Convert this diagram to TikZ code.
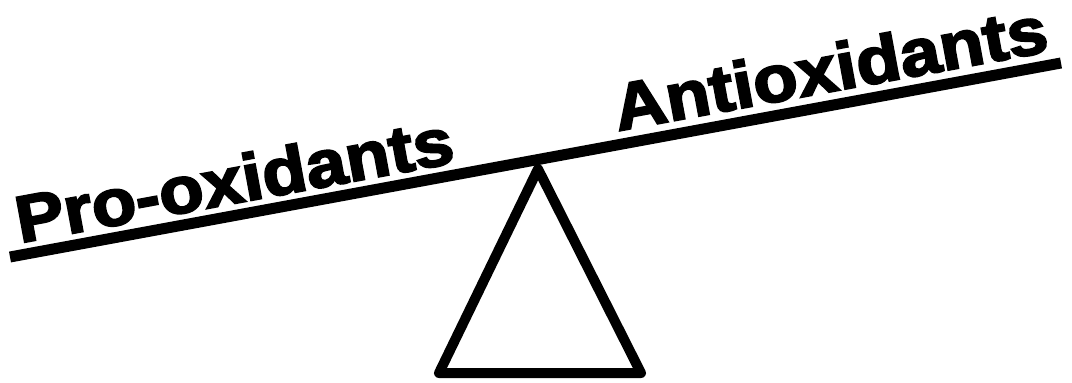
\documentclass[tikz,border=0pt]{standalone}
\usepackage{fontspec}
\setmainfont{Liberation Sans}
\newfontfamily\heavyfont[BoldFeatures={FakeBold=3}]{Liberation Sans}
\begin{document}
\begin{tikzpicture}[x=1pt,y=-1pt,
  beam/.style={line width=11pt, line cap=butt},
  stand/.style={line width=10pt, line join=round},
  label/.style={inner sep=0pt, anchor=base west, rotate=10.47,
    font=\heavyfont\bfseries\fontsize{66}{70}\selectfont}]
\useasboundingbox (0,0) rectangle (1072,383);
\fill[white] (0,0) rectangle (1072,383);
\coordinate (L) at (10,257);
\coordinate (R) at (1061,63);
\coordinate (apex) at (538,169);
\coordinate (bl) at (439,373);
\coordinate (br) at (641,373);
\draw[stand] (apex) -- (bl) -- (br) -- cycle;
\draw[beam] (L) -- (R);
\node[label] (pro) at (20,243) {\scalebox{1.1}[1]{Pro-oxidants}};
\node[label] (anti) at (618,131) {\scalebox{1.1}[1]{Antioxidants}};
\end{tikzpicture}
\end{document}
